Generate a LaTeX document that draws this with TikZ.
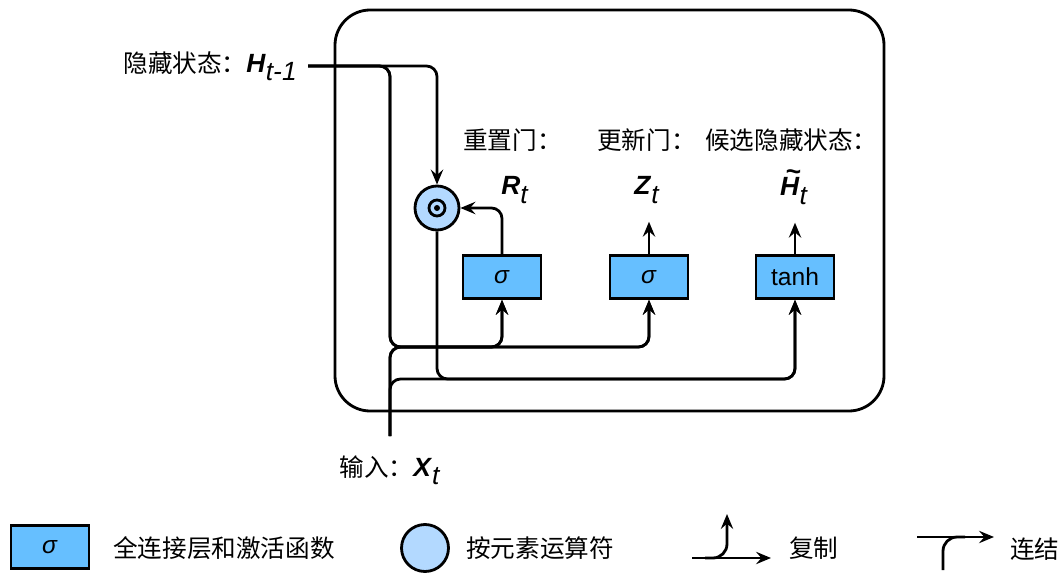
\documentclass[tikz,border=0pt]{standalone}
\usepackage{fontspec}
\setmainfont{Liberation Sans}
\newfontfamily\cjk{Noto Sans CJK SC}
\usetikzlibrary{arrows.meta,positioning}
\usepackage{xcolor}
\definecolor{gateblue}{RGB}{102,191,255}
\definecolor{opblue}{RGB}{179,217,255}
\newcommand{\zh}[1]{{\cjk\fontsize{14}{16}\selectfont #1}}
\newcommand{\vecsub}[2]{\textbf{\textit{#1}}\raisebox{-0.6ex}{\textit{#2}}}
\newcommand{\tildeH}{\makebox[0pt][l]{\hspace{0.2em}\raisebox{0.58em}{\textbf{\textasciitilde}}}\textbf{\textit{H}}}
\tikzset{
    gate/.style={
        draw=black,line width=1.5pt,fill=gateblue,
        minimum width=1.56cm,minimum height=0.86cm,inner sep=0pt,
        font=\fontsize{14}{16}\selectfont
    },
    opnode/.style={
        draw=black,line width=1.6pt,fill=opblue,circle,
        minimum size=0.88cm,inner sep=0pt
    },
    wire/.style={
        line width=1.6pt,rounded corners=6pt
    },
    arrow/.style={
        wire,-{Stealth[length=8.5pt,width=7pt,inset=3pt]}
    },
    varlab/.style={
        inner sep=0pt,font=\fontsize{15}{17}\selectfont
    },
    cjklab/.style={
        inner sep=0pt,anchor=west,font=\cjk\fontsize{14}{16}\selectfont
    }
}

\begin{document}
\begin{tikzpicture}[x=0.02cm,y=-0.02cm]
\useasboundingbox (0,0) rectangle (1064,574);

% cell frame
\draw[line width=1.6pt,rounded corners=20pt] (335,10) rectangle (884,411);

\coordinate (hin) at (308,66);
\coordinate (xin) at (390,436);
\coordinate (j1) at (390,347);
\coordinate (j2) at (390,379);

\node[varlab,left=0.22cm of hin] (hlabel) {\zh{隐藏状态：}\vecsub{H}{t-1}};
\node[varlab,below=0.38cm of xin] (xlabel) {\zh{输入：}\vecsub{X}{t}};

\node[opnode] (mul) at (437,208) {};
\draw[line width=1.6pt] (mul.center) circle (0.16cm);
\fill (mul.center) circle (0.06cm);

\node[gate] (rgate) at (502,277) {\textit{σ}};
\node[gate] (zgate) at (649,277) {\textit{σ}};
\node[gate] (cand) at (795,277) {tanh};

\node[cjklab] (rtitle) at (463,140) {重置门：};
\node[cjklab] (ztitle) at (597,140) {更新门：};
\node[cjklab] (ctitle) at (705,140) {候选隐藏状态：};

\node[varlab] (rlab) at (515,190) {\vecsub{R}{t}};
\node[varlab] (zlab) at (647,190) {\vecsub{Z}{t}};
\node[varlab] (clab) at (794,187) {\vecsub{\tildeH}{t}};

% hidden state and input wires
\draw[arrow] (hin) -| (mul.north);
\draw[arrow] (hin) -| (j1) -| (rgate.south);
\draw[arrow] (hin) -| (j1) -| (zgate.south);
\draw[arrow] (xin) -- (j1) -| (rgate.south);
\draw[arrow] (xin) -- (j1) -| (zgate.south);
\draw[arrow] (xin) -- (j2) -| (cand.south);
\draw[arrow] (mul.south) -- (mul.south |- j2) -| (cand.south);

% gate outputs
\draw[arrow] (rgate.north) |- (mul.east);
\draw[arrow,shorten >=0.36cm] (zgate.north) -- (zgate.north |- zlab.south);
\draw[arrow,shorten >=0.36cm] (cand.north) -- (cand.north |- clab.south);

% legend
\node[gate] (lgate) at (50,547) {\textit{σ}};
\node[cjklab] (lgtext) at (113,548) {全连接层和激活函数};
\node[opnode,minimum size=0.94cm] (lop) at (425,548) {};
\node[cjklab] (loptext) at (466,548) {按元素运算符};

\coordinate (cpa) at (692,558);
\coordinate (cpb) at (771,558);
\coordinate (cpc) at (705,558);
\coordinate (cpd) at (727,514);
\draw[arrow] (cpa) -- (cpb);
\draw[arrow,rounded corners=8pt] (cpc) -| (cpd);
\node[cjklab] (cptext) at (789,548) {复制};

\coordinate (cca) at (917,537);
\coordinate (ccb) at (994,537);
\coordinate (ccc) at (943,570);
\coordinate (ccd) at (965,537);
\draw[arrow] (cca) -- (ccb);
\draw[wire,rounded corners=8pt] (ccc) |- (ccd);
\node[cjklab] (cctext) at (1010,549) {连结};

\end{tikzpicture}
\end{document}
